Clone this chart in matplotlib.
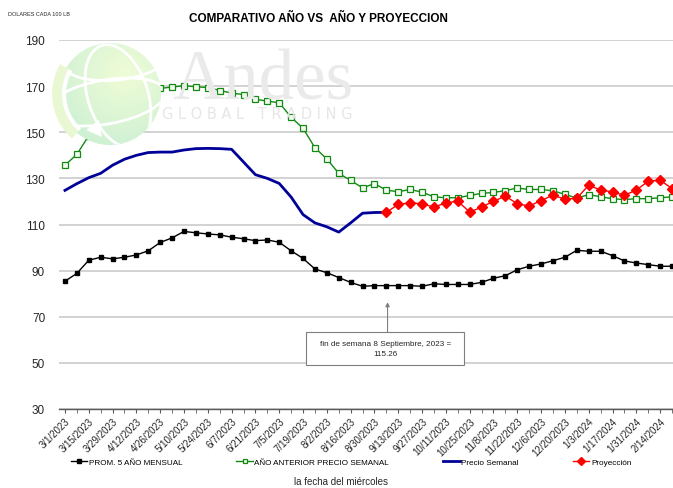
import numpy as np
import matplotlib.pyplot as plt
from matplotlib.patches import Circle, Ellipse, Rectangle, Polygon

plt.rcParams['font.family'] = ['Liberation Sans', 'DejaVu Sans']

# weekly wednesdays, 3/1/2023 .. 2/21/2024 (52 weeks), labels every 2 weeks
n_weeks = 52
week_labels = ['3/1/2023', '3/15/2023', '3/29/2023', '4/12/2023', '4/26/2023',
               '5/10/2023', '5/24/2023', '6/7/2023', '6/21/2023', '7/5/2023',
               '7/19/2023', '8/2/2023', '8/16/2023', '8/30/2023', '9/13/2023',
               '9/27/2023', '10/11/2023', '10/25/2023', '11/8/2023', '11/22/2023',
               '12/6/2023', '12/20/2023', '1/3/2024', '1/17/2024', '1/31/2024',
               '2/14/2024']

prom_5_anios = [85.4, 88.8, 94.5, 95.8, 95.1, 95.8, 96.8, 98.6, 102.2, 104.2,
                107.0, 106.4, 105.9, 105.5, 104.5, 103.8, 103.0, 103.3, 102.3, 98.6,
                95.3, 90.7, 89.1, 87.0, 84.9, 83.2, 83.5, 83.5, 83.5, 83.5,
                83.2, 84.3, 84.0, 84.0, 84.0, 84.9, 86.7, 87.8, 90.4, 91.9,
                92.9, 94.3, 95.8, 98.8, 98.4, 98.4, 96.5, 94.2, 93.3, 92.6,
                91.9, 91.9]

anio_anterior = [135.7, 140.4, 148.5, 153.0, 158.5, 163.0, 166.5, 168.2, 169.0, 169.6,
                 170.2, 169.7, 169.4, 168.1, 167.0, 166.3, 164.3, 163.5, 162.8, 156.5,
                 151.7, 143.3, 138.4, 132.2, 129.1, 125.9, 127.7, 124.9, 124.2, 125.2,
                 124.0, 122.0, 121.6, 121.6, 122.6, 123.5, 123.9, 124.7, 125.8, 125.2,
                 125.2, 124.6, 123.1, 121.4, 123.0, 122.0, 121.2, 120.8, 121.2, 121.2,
                 121.6, 122.0]

precio_semanal = [124.8, 127.7, 130.3, 132.2, 135.7, 138.3, 140.0, 141.2, 141.4, 141.4,
                  142.3, 142.9, 143.0, 142.9, 142.6, 137.1, 131.6, 130.0, 127.8, 121.9,
                  114.3, 110.7, 109.0, 106.7, 110.7, 114.9, 115.2, 115.26]

proyeccion = [115.26, 118.7, 119.4, 119.0, 117.5, 119.4, 120.1, 115.4, 117.5, 120.1,
              122.3, 119.0, 118.0, 120.4, 122.7, 121.0, 121.4, 127.0, 125.0, 124.1,
              122.7, 124.9, 128.8, 129.2, 125.6]

x_all = np.arange(n_weeks)
x_precio = np.arange(len(precio_semanal))
x_proy = np.arange(n_weeks - len(proyeccion), n_weeks)

W, H = 673, 489
fig = plt.figure(figsize=(W / 100, H / 100), dpi=100)
fig.patch.set_facecolor('white')

# plot area in pixels: left 59, right 678 (runs a bit past the edge), top 41, bottom 410
ax = fig.add_axes([59 / W, 1 - 410 / H, 619 / W, 369 / H])

ax.plot(x_all, prom_5_anios, color='black', lw=1.0, marker='s', ms=3.4,
        label='PROM. 5 AÑO MENSUAL', zorder=3)
ax.plot(x_all, anio_anterior, color='#128a12', lw=1.0, marker='s', ms=3.8,
        mfc='#f2faf0', mec='#128a12', mew=0.9, label='AÑO ANTERIOR PRECIO SEMANAL', zorder=3)
ax.plot(x_precio, precio_semanal, color='#000099', lw=2.0, label='Precio Semanal', zorder=3)
ax.plot(x_proy, proyeccion, color='red', lw=1.0, marker='D', ms=5.5,
        label='Proyección', zorder=4)

ax.set_xlim(-0.5, n_weeks - 0.5)
ax.set_ylim(30, 190)
ax.set_yticks(np.arange(30, 191, 20))
ax.yaxis.grid(True, color='#cfcfcf', lw=1.3)
ax.set_axisbelow(True)
for s in ['top', 'right', 'left']:
    ax.spines[s].set_visible(False)
ax.spines['bottom'].set_color('#595959')
ax.spines['bottom'].set_linewidth(1.0)
ax.tick_params(axis='y', length=0, pad=10, labelsize=8.5, labelcolor='#262626')

ax.set_xticks(x_all, minor=True)
ax.set_xticks(x_all[::2])
ax.set_xticklabels(week_labels, rotation=45, ha='right', va='top',
                   rotation_mode='anchor', fontsize=7, color='#262626')
ax.tick_params(axis='x', which='both', length=3, color='#595959', pad=2)

# annotation box about the last weekly price
ax.add_patch(Rectangle((20.26, 49.1), 13.27, 14.4, fill=True, fc='white',
                       ec='#7f7f7f', lw=0.8, zorder=5))
ax.text(26.9, 56.3, 'fin de semana 8 Septiembre, 2023 =\n%.2f' % precio_semanal[-1],
        ha='center', va='center', fontsize=5.9, color='#262626',
        linespacing=1.7, zorder=6)
ax.annotate('', xy=(27.1, 76.3), xytext=(27.1, 63.5),
            arrowprops=dict(arrowstyle='-|>', color='#7f7f7f', lw=0.8,
                            mutation_scale=6, shrinkA=0, shrinkB=0))

fig.legend(loc='center', bbox_to_anchor=(351 / W, 1 - 463 / H), ncol=4,
           frameon=False, fontsize=5.9, handlelength=2.0, handletextpad=0.2,
           columnspacing=6.6, borderaxespad=0, markerscale=0.7)

fig.text(318 / W, 1 - 19 / H, 'COMPARATIVO AÑO VS  AÑO Y PROYECCION',
         ha='center', va='center', fontsize=8.5, fontweight='bold', color='black')
fig.text(8 / W, 1 - 14 / H, 'DOLARES CADA 100 LB', ha='left', va='center',
         fontsize=4.0, color='#262626')
fig.text(341 / W, 1 - 482 / H, 'la fecha del miércoles', ha='center', va='center',
         fontsize=7, color='#262626')

# company logo watermark on top of the plot
lg = fig.add_axes([0, 0, 1, 1], zorder=5)
lg.set_xlim(0, W)
lg.set_ylim(H, 0)
lg.axis('off')

cx, cy, r = 110, 95, 51
globe = Circle((cx, cy), r, transform=lg.transData)
gx, gy = np.meshgrid(np.linspace(cx - r, cx + r, 120), np.linspace(cy - r, cy + r, 120))
d = np.clip(np.hypot(gx - 125, gy - 75) / 80, 0, 1)[..., None]
c1 = np.array([0.94, 0.99, 0.84])
c2 = np.array([0.80, 0.94, 0.83])
img = c1 * (1 - d) + c2 * d
im = lg.imshow(img, extent=[cx - r, cx + r, cy + r, cy - r], zorder=1)
im.set_clip_path(globe)

for e in [Ellipse((cx + 8, cy + 2), 60, 106, angle=-18),
          Ellipse((cx - 4, cy + 8), 120, 44, angle=-10),
          Ellipse((cx + 6, cy - 34), 104, 40, angle=-6)]:
    e.set_fill(False)
    e.set_edgecolor('white')
    e.set_linewidth(2.0)
    e.set_zorder(2)
    lg.add_patch(e)
    e.set_clip_path(globe)

# swoosh arrow along the left side of the globe
t = np.linspace(np.radians(150), np.radians(228), 40)
lg.plot(cx + 2 + 55 * np.cos(t), cy - 55 * np.sin(t), color='#e9f7d2',
        lw=7, solid_capstyle='butt', zorder=3)
lg.plot(cx + 2 + 48 * np.cos(t), cy - 48 * np.sin(t), color='white',
        lw=3, solid_capstyle='butt', zorder=3)
lg.add_patch(Polygon([[86, 131], [99, 121], [102, 138]], closed=True,
                     fc='white', ec='none', zorder=3))

lg.text(172, 100, 'Andes', fontsize=51, family='Liberation Serif',
        color='#eaeaea', ha='left', va='baseline', zorder=1)
lg.text(162, 119, 'G L O B A L   T R A D I N G', fontsize=10.5, family='DejaVu Sans',
        color='#e6e6e6', ha='left', va='baseline', zorder=1)

fig.savefig('out.png', dpi=100)
